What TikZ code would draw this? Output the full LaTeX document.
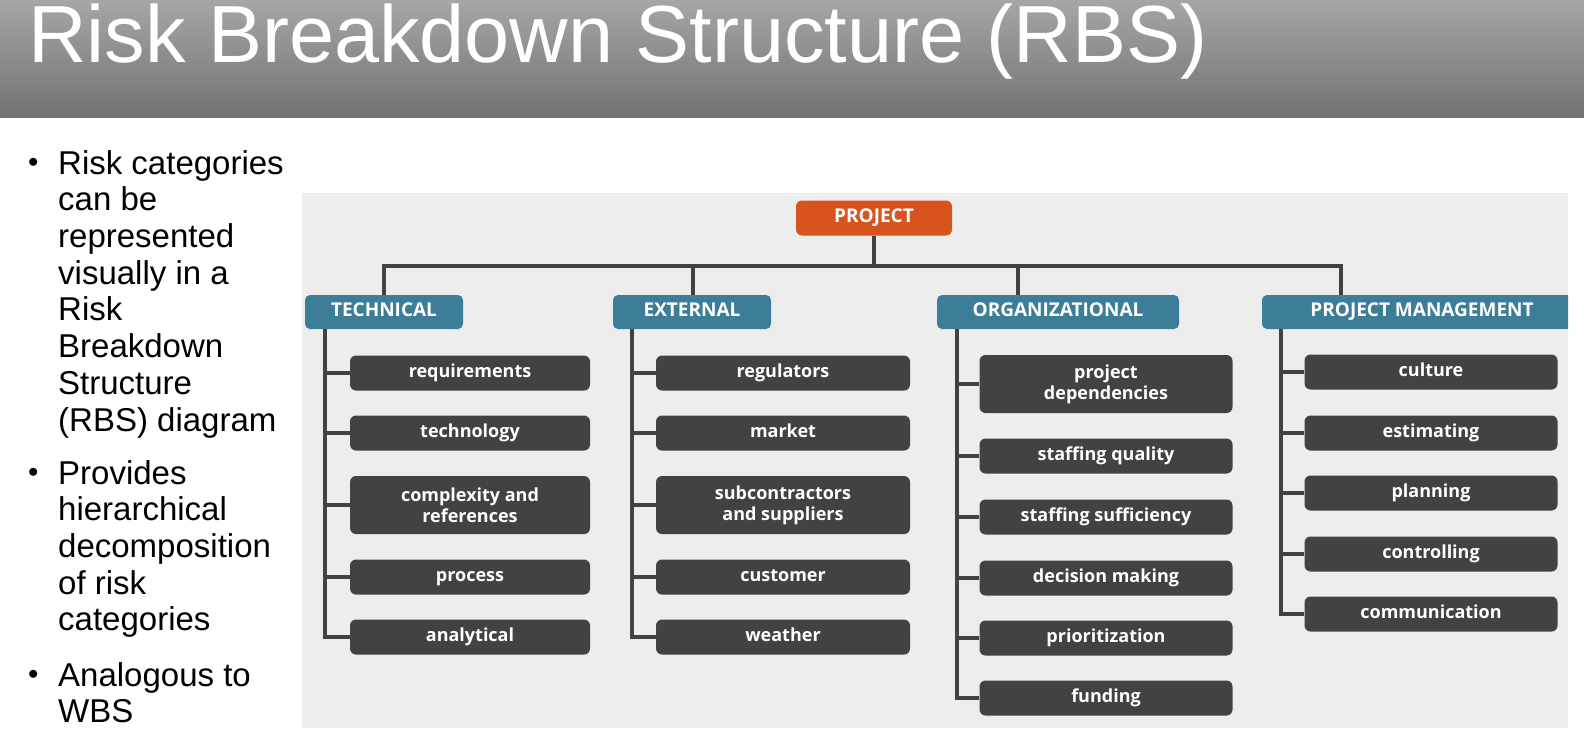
\documentclass[tikz,border=0pt]{standalone}
\usepackage{fontspec}
\setmainfont{Liberation Sans}
\newfontfamily\boxfont{Open Sans}
\begin{document}
\begin{tikzpicture}[x=1pt,y=-1pt,
 cat/.style={fill=catc,rounded corners=5pt,text=white,font=\boxfont\bfseries\fontsize{19}{19}\selectfont,minimum height=34pt,inner sep=0pt,text height=13pt,text depth=4pt},
 item/.style={fill=itc,rounded corners=6pt,text=white,font=\boxfont\bfseries\fontsize{18}{21}\selectfont,minimum height=35pt,minimum width=240pt,inner sep=0pt,align=center,text height=13pt,text depth=4pt},
 tall/.style={minimum height=58pt,text height=,text depth=},
 ln/.style={line width=4pt,draw=itc},
 bul/.style={font=\fontsize{33}{36.7}\selectfont,anchor=north west,align=left,inner sep=0pt}]
\definecolor{catc}{HTML}{3C7E98}\definecolor{itc}{HTML}{424242}\definecolor{orc}{HTML}{D9531E}
\useasboundingbox (0,0) rectangle (1584,750);
\fill[white] (0,0) rectangle (1584,750);
\shade[top color=black!35,bottom color=black!55] (0,0) rectangle (1584,117);
\node[anchor=base west,inner sep=0pt,text=white,font=\fontsize{81}{81}\selectfont] (title) at (28,62) {Risk Breakdown Structure (RBS)};
\node[bul,font=\fontsize{20}{36.7}\selectfont] (b1) at (28,158) {$\bullet$};
\node[bul] (t1) at (58,150) {Risk categories\\can be\\represented\\visually in a\\Risk\\Breakdown\\Structure\\(RBS) diagram};
\node[bul,font=\fontsize{20}{36.7}\selectfont] (b2) at (28,468) {$\bullet$};
\node[bul] (t2) at (58,460) {Provides\\hierarchical\\decomposition\\of risk\\categories};
\node[bul,font=\fontsize{20}{36.7}\selectfont] (b3) at (28,670) {$\bullet$};
\node[bul] (t3) at (58,662) {Analogous to\\WBS};
\begin{scope}
\clip (302,193) rectangle (1568,728);
\fill[black!7] (302,193) rectangle (1568,728);
\node[fill=orc,rounded corners=6pt,text=white,font=\boxfont\bfseries\fontsize{19}{19}\selectfont,minimum width=156pt,minimum height=35pt,inner sep=0pt,text height=13pt,text depth=4pt] (proj) at (874,218) {PROJECT};
\node[cat,minimum width=158pt] (c1) at (384,312) {TECHNICAL};
\node[cat,minimum width=158pt] (c2) at (692,312) {EXTERNAL};
\node[cat,minimum width=242pt] (c3) at (1058,312) {ORGANIZATIONAL};
\node[cat,minimum width=320pt] (c4) at (1422,312) {PROJECT MANAGEMENT};
\coordinate (h1) at (384,266);\coordinate (h2) at (693,266);\coordinate (h3) at (1018,266);\coordinate (h4) at (1341,266);
\draw[ln] (proj.south) -- (874,266);
\draw[ln,line cap=rect] (h1) -- (h4);
\draw[ln] (h1) -- (384,295);\draw[ln] (h2) -- (693,295);\draw[ln] (h3) -- (1018,295);\draw[ln] (h4) -- (1341,295);
% technical
\node[item] (a1) at (470,373) {requirements};
\node[item] (a2) at (470,433) {technology};
\node[item,tall] (a3) at (470,505) {complexity and\\references};
\node[item] (a4) at (470,577) {process};
\node[item] (a5) at (470,637) {analytical};
\coordinate (s1) at (325,329);
\draw[ln] (s1) |- (a5.west);
\foreach \n in {a1,a2,a3,a4} \draw[ln] (325,0 |- \n.west) -- (\n.west);
% external
\node[item,minimum width=254pt] (e1) at (783,373) {regulators};
\node[item,minimum width=254pt] (e2) at (783,433) {market};
\node[item,tall,minimum width=254pt] (e3) at (783,505) {subcontractors\\and suppliers};
\node[item,minimum width=254pt] (e4) at (783,577) {customer};
\node[item,minimum width=254pt] (e5) at (783,637) {weather};
\coordinate (s2) at (632,329);
\draw[ln] (s2) |- (e5.west);
\foreach \n in {e1,e2,e3,e4} \draw[ln] (632,0 |- \n.west) -- (\n.west);
% organizational
\node[item,tall,minimum width=253pt] (o1) at (1106,384) {project\\dependencies};
\node[item,minimum width=253pt] (o2) at (1106,456) {staffing quality};
\node[item,minimum width=253pt] (o3) at (1106,517) {staffing sufficiency};
\node[item,minimum width=253pt] (o4) at (1106,578) {decision making};
\node[item,minimum width=253pt] (o5) at (1106,638) {prioritization};
\node[item,minimum width=253pt] (o6) at (1106,698) {funding};
\coordinate (s3) at (957,329);
\draw[ln] (s3) |- (o6.west);
\foreach \n in {o1,o2,o3,o4,o5} \draw[ln] (957,0 |- \n.west) -- (\n.west);
% PM
\node[item,minimum width=253pt] (p1) at (1431,372) {culture};
\node[item,minimum width=253pt] (p2) at (1431,433) {estimating};
\node[item,minimum width=253pt] (p3) at (1431,493) {planning};
\node[item,minimum width=253pt] (p4) at (1431,554) {controlling};
\node[item,minimum width=253pt] (p5) at (1431,614) {communication};
\coordinate (s4) at (1281,329);
\draw[ln] (s4) |- (p5.west);
\foreach \n in {p1,p2,p3,p4} \draw[ln] (1281,0 |- \n.west) -- (\n.west);
\end{scope}
\end{tikzpicture}
\end{document}
